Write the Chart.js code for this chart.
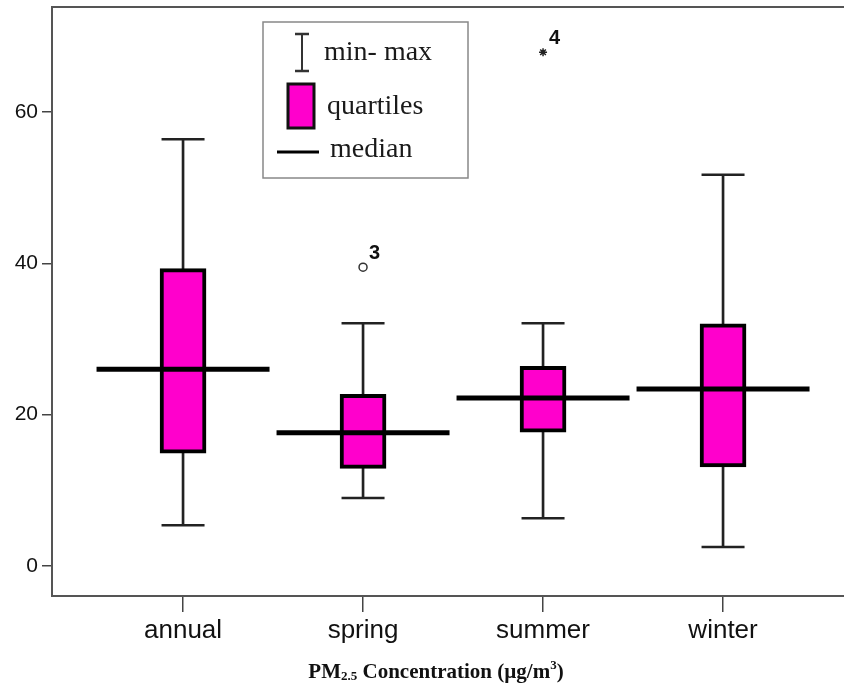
<!DOCTYPE html>
<html><head><meta charset="utf-8">
<script src="https://cdn.jsdelivr.net/npm/chart.js@4.4.1/dist/chart.umd.min.js"></script>
<style>html,body{margin:0;padding:0;background:#fff;}#wrap{width:844px;height:692px;position:relative;}</style>
</head><body><div id="wrap"><canvas id="c" width="844" height="692"></canvas></div>
<script>
const categories = ['annual', 'spring', 'summer', 'winter'];
const minValues = [5.4, 9.0, 6.3, 2.5];
const q1Values = [14.9, 12.9, 17.7, 13.1];
const medianValues = [26.0, 17.6, 22.2, 23.4];
const q3Values = [39.3, 22.7, 26.4, 32.0];
const maxValues = [56.4, 32.1, 32.1, 51.7];
const circleOutliers = [{ cat: 1, value: 39.5, label: '3' }];
const starOutliers = [{ cat: 2, value: 67.9, label: '4' }];
const yTicks = [0, 20, 40, 60];
const legendLabels = ['min- max', 'quartiles', 'median'];
const xTitleParts = ['PM', '2.5', ' Concentration (\u00b5g/m', '3', ')'];

const MAGENTA = 'rgb(255,0,204)';
const idx = categories.map((c, i) => i);

// Scatter whose point marks should not push the chart area inward.
class HMarkController extends Chart.ScatterController {
  getMaxOverflow() { return 0; }
}
HMarkController.id = 'hmark';
HMarkController.defaults = Object.assign({}, Chart.ScatterController.defaults);
HMarkController.overrides = Chart.ScatterController.overrides;
Chart.register(HMarkController);

const datasets = [
  { type: 'hmark', order: 0, showLine: false, data: idx.map(i => ({ x: i, y: medianValues[i] })),
    pointStyle: 'line', radius: 86.5, hoverRadius: 0, borderWidth: 5, borderColor: '#000', backgroundColor: '#000' },
  { type: 'hmark', order: 0, showLine: false, data: circleOutliers.map(o => ({ x: o.cat, y: o.value })),
    pointStyle: 'circle', radius: 4, hoverRadius: 0, borderWidth: 1.5, borderColor: '#333', backgroundColor: '#fff' },
  { type: 'hmark', order: 0, showLine: false, data: starOutliers.map(o => ({ x: o.cat, y: o.value })),
    pointStyle: 'star', radius: 4, hoverRadius: 0, borderWidth: 1.5, borderColor: '#222', backgroundColor: '#222' },
  { type: 'bar', order: 1, grouped: false, barThickness: 46, borderSkipped: false,
    data: idx.map(i => ({ x: i, y: [q1Values[i], q3Values[i]] })),
    backgroundColor: MAGENTA, borderColor: '#000', borderWidth: 4 },
  { type: 'hmark', order: 2, showLine: false,
    data: idx.map(i => ({ x: i, y: minValues[i] })).concat(idx.map(i => ({ x: i, y: maxValues[i] }))),
    pointStyle: 'line', radius: 21.5, hoverRadius: 0, borderWidth: 2.5, borderColor: '#222' },
  { type: 'bar', order: 3, grouped: false, barThickness: 2, borderSkipped: false,
    data: idx.map(i => ({ x: i, y: [minValues[i], maxValues[i]] })),
    backgroundColor: '#222', borderWidth: 0 }
];

const extrasPlugin = {
  id: 'extras',
  afterDatasetsDraw(chart) {
    const { ctx, chartArea, scales } = chart;
    ctx.save();
    ctx.strokeStyle = '#555'; ctx.lineWidth = 2;
    ctx.beginPath(); ctx.moveTo(chartArea.left, chartArea.top); ctx.lineTo(chartArea.right, chartArea.top); ctx.stroke();
    ctx.fillStyle = '#111';
    ctx.font = 'bold 20px "Liberation Sans", Arial, sans-serif';
    ctx.textAlign = 'left'; ctx.textBaseline = 'alphabetic';
    circleOutliers.concat(starOutliers).forEach(o => {
      const px = scales.x.getPixelForValue(o.cat);
      const py = scales.y.getPixelForValue(o.value);
      ctx.fillText(o.label, px + 6, py - 8);
    });
    ctx.restore();
  },
  afterDraw(chart) {
    const { ctx } = chart;
    ctx.save();
    ctx.fillStyle = '#fff';
    ctx.fillRect(263, 22, 205, 156);
    ctx.strokeStyle = '#888'; ctx.lineWidth = 1.5;
    ctx.strokeRect(263, 22, 205, 156);
    ctx.strokeStyle = '#333'; ctx.lineWidth = 2;
    ctx.beginPath(); ctx.moveTo(302, 34); ctx.lineTo(302, 71); ctx.stroke();
    ctx.lineWidth = 2.5;
    ctx.beginPath(); ctx.moveTo(295, 34); ctx.lineTo(309, 34); ctx.moveTo(295, 71); ctx.lineTo(309, 71); ctx.stroke();
    ctx.fillStyle = MAGENTA; ctx.fillRect(288, 84, 26, 44);
    ctx.strokeStyle = '#111'; ctx.lineWidth = 3; ctx.strokeRect(288, 84, 26, 44);
    ctx.strokeStyle = '#000'; ctx.lineWidth = 3;
    ctx.beginPath(); ctx.moveTo(277, 152); ctx.lineTo(319, 152); ctx.stroke();
    ctx.fillStyle = '#1a1a1a';
    ctx.font = '28px "Liberation Serif", "Times New Roman", serif';
    ctx.textAlign = 'left'; ctx.textBaseline = 'middle';
    ctx.fillText(legendLabels[0], 324, 53);
    ctx.fillText(legendLabels[1], 327, 107);
    ctx.fillText(legendLabels[2], 330, 150);
    const big = 'bold 21px "Liberation Serif", "Times New Roman", serif';
    const small = 'bold 13px "Liberation Serif", "Times New Roman", serif';
    const parts = [
      { t: xTitleParts[0], f: big, dy: 0 },
      { t: xTitleParts[1], f: small, dy: 2 },
      { t: xTitleParts[2], f: big, dy: 0 },
      { t: xTitleParts[3], f: small, dy: -9 },
      { t: xTitleParts[4], f: big, dy: 0 }
    ];
    let total = 0;
    parts.forEach(p => { ctx.font = p.f; p.w = ctx.measureText(p.t).width; total += p.w; });
    let x = 436 - total / 2;
    const base = 678;
    ctx.fillStyle = '#111'; ctx.textBaseline = 'alphabetic';
    parts.forEach(p => { ctx.font = p.f; ctx.fillText(p.t, x, base + p.dy); x += p.w; });
    ctx.restore();
  }
};

new Chart(document.getElementById('c'), {
  type: 'scatter',
  data: { datasets },
  options: {
    responsive: false, animation: false, devicePixelRatio: 1, events: [],
    layout: { padding: { top: 7, right: 0, bottom: 0, left: 0 } },
    plugins: { legend: { display: false }, tooltip: { enabled: false } },
    scales: {
      x: {
        type: 'linear', min: -0.728, max: 3.672, offset: false,
        afterBuildTicks: s => { s.ticks = idx.map(v => ({ value: v })); },
        afterFit: s => { s.height = 96; s.paddingLeft = 0; s.paddingRight = 0; },
        grid: { drawOnChartArea: false, drawTicks: true, tickLength: 16, color: '#444', lineWidth: 1.5, offset: false },
        border: { display: true, color: '#555', width: 2 },
        ticks: { callback: v => categories[v], color: '#111', padding: 3, maxRotation: 0, autoSkip: false,
          font: { family: '"Liberation Sans", Arial, sans-serif', size: 26 } }
      },
      y: {
        type: 'linear', min: -3.96, max: 73.88,
        afterBuildTicks: s => { s.ticks = yTicks.map(v => ({ value: v })); },
        afterFit: s => { s.width = 52; s.paddingTop = 0; s.paddingBottom = 0; },
        grid: { drawOnChartArea: false, drawTicks: true, tickLength: 10, color: '#444', lineWidth: 1.5 },
        border: { display: true, color: '#555', width: 2 },
        ticks: { color: '#111', padding: 4,
          font: { family: '"Liberation Sans", Arial, sans-serif', size: 21 } }
      }
    }
  },
  plugins: [extrasPlugin]
});
</script></body></html>
